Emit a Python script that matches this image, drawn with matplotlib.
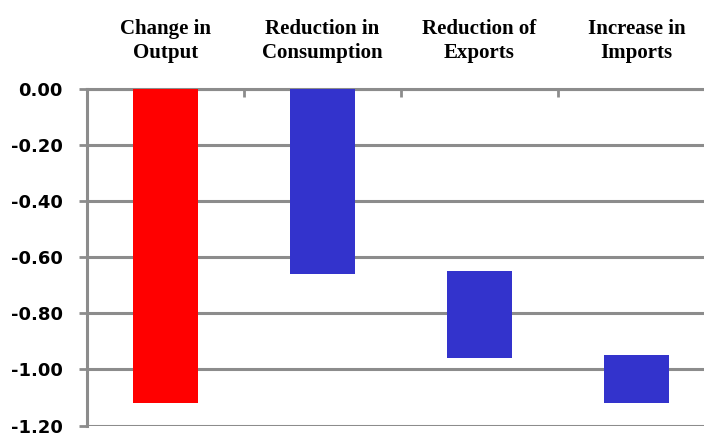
import matplotlib
matplotlib.use("Agg")
import matplotlib.pyplot as plt
import numpy as np

# Waterfall decomposition of the output change
categories = ["Change in\nOutput", "Reduction in\nConsumption", "Reduction of\nExports", "Increase in\nImports"]
bar_top = [0.00, 0.00, -0.65, -0.95]
bar_bottom = [-1.12, -0.66, -0.96, -1.12]
bar_colors = ["#ff0000", "#3333cc", "#3333cc", "#3333cc"]
y_ticks = [0.00, -0.20, -0.40, -0.60, -0.80, -1.00, -1.20]

fig = plt.figure(figsize=(7.04, 4.36), dpi=100)
ax = fig.add_axes([87 / 704, 1 - 425.5 / 436, 628 / 704, (425.5 - 89) / 436])

x = np.arange(len(categories))
heights = np.array(bar_bottom) - np.array(bar_top)
ax.bar(x, heights, bottom=bar_top, width=0.41, color=bar_colors, zorder=3)

ax.set_xlim(-0.5, len(categories) - 0.5)
ax.set_ylim(-1.20, 0.00)

grid_color = "#8c8c8c"
ax.set_yticks(y_ticks)
ax.set_yticklabels([f"{v:.2f}" for v in y_ticks], fontsize=13, fontweight="bold",
                   family="DejaVu Sans")
ax.yaxis.grid(True, color=grid_color, linewidth=2.2, zorder=0)
ax.tick_params(axis="y", direction="out", length=5.5, width=2, color=grid_color, pad=12)

# Category axis sits along the zero line at the top
ax.xaxis.tick_top()
ax.set_xticks(x)
ax.set_xticklabels(categories, fontsize=15, fontweight="bold", family="Liberation Serif",
                   linespacing=1.25)
ax.tick_params(axis="x", which="major", length=0, pad=19)
ax.set_xticks(np.arange(0.5, len(categories) - 0.5, 1.0), minor=True)
ax.tick_params(axis="x", which="minor", direction="in", length=6, width=2, color=grid_color)

for side in ["right", "bottom"]:
    ax.spines[side].set_visible(False)
ax.spines["left"].set_color(grid_color)
ax.spines["left"].set_linewidth(2.2)
ax.spines["top"].set_color(grid_color)
ax.spines["top"].set_linewidth(2.2)
ax.set_axisbelow(True)

fig.savefig("out.png", dpi=100)
